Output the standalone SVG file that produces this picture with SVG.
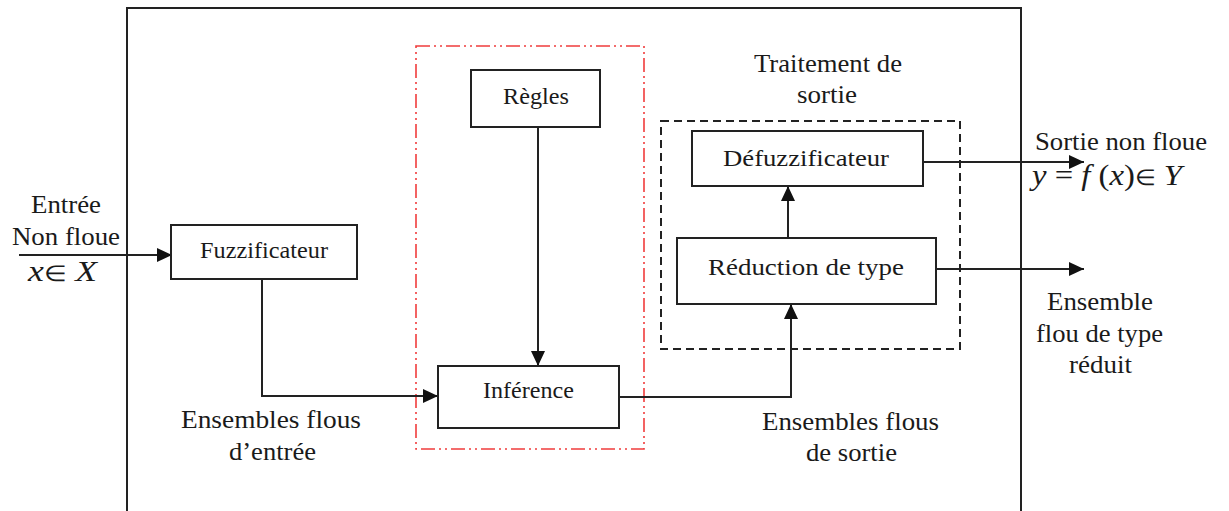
<svg xmlns="http://www.w3.org/2000/svg" width="1229" height="511" viewBox="0 0 1229 511" font-family="'Liberation Serif', Tinos, 'Times New Roman', serif">
<style>
text{font-family:'Liberation Serif',Tinos,'Times New Roman',serif;fill:#1a1a1a}
.lbl{font-size:25px}
.nl{font-size:23px}
.m{font-size:30px}
.it{font-style:italic}
.el{font-size:22px}
.box{fill:#fff;stroke:#222;stroke-width:2}
.ln{fill:none;stroke:#222;stroke-width:2}
</style>
<defs>
<marker id="ah" markerUnits="userSpaceOnUse" markerWidth="16" markerHeight="14" refX="15" refY="7" orient="auto">
<path d="M0,0 L15,7 L0,14 z" fill="#111"/>
</marker>
</defs>
<rect width="1229" height="511" fill="#fff"/>
<g id="frame">
<path class="ln" d="M127,515 V8 H1021 V515"/>
</g>
<g id="inference-block">
<rect x="416" y="46" width="228" height="403" fill="none" stroke="#f03c3c" stroke-width="1.6" stroke-dasharray="14 4 2 4 2 4"/>
</g>
<g id="output-processing">
<rect x="661" y="121" width="299" height="228" fill="none" stroke="#222" stroke-width="2" stroke-dasharray="8 5"/>
<text class="lbl" x="754" y="72" textLength="148" lengthAdjust="spacingAndGlyphs">Traitement de</text>
<text class="lbl" x="797" y="103" textLength="60" lengthAdjust="spacingAndGlyphs">sortie</text>
</g>
<g id="connectors">
<line class="ln" x1="19" y1="255" x2="172" y2="255" marker-end="url(#ah)"/>
<line class="ln" x1="538" y1="127" x2="538" y2="366" marker-end="url(#ah)"/>
<path class="ln" d="M262,279 V396 H438" marker-end="url(#ah)"/>
<path class="ln" d="M619,397 H791 V304" marker-end="url(#ah)"/>
<line class="ln" x1="788" y1="238" x2="788" y2="186" marker-end="url(#ah)"/>
<line class="ln" x1="923" y1="162" x2="1084" y2="162" marker-end="url(#ah)"/>
<line class="ln" x1="936" y1="269" x2="1084" y2="269" marker-end="url(#ah)"/>
</g>
<g id="regles">
<rect class="box" x="471" y="70" width="129" height="57"/>
<text class="nl" x="503" y="104" textLength="66" lengthAdjust="spacingAndGlyphs">Règles</text>
</g>
<g id="fuzzificateur">
<rect class="box" x="171" y="225" width="186" height="54"/>
<text class="nl" x="200" y="258" textLength="128" lengthAdjust="spacingAndGlyphs">Fuzzificateur</text>
</g>
<g id="inference">
<rect class="box" x="438" y="366" width="181" height="62"/>
<text class="nl" x="483" y="398" textLength="91" lengthAdjust="spacingAndGlyphs">Inférence</text>
</g>
<g id="defuzzificateur">
<rect class="box" x="692" y="131" width="231" height="55"/>
<text class="nl" x="723" y="166" textLength="166" lengthAdjust="spacingAndGlyphs">Défuzzificateur</text>
</g>
<g id="reduction">
<rect class="box" x="677" y="238" width="259" height="66"/>
<text class="nl" x="708" y="275" textLength="196" lengthAdjust="spacingAndGlyphs">Réduction de type</text>
</g>
<g id="labels">
<text class="lbl" x="31" y="213" textLength="70" lengthAdjust="spacingAndGlyphs">Entrée</text>
<text class="lbl" x="12" y="245" textLength="108" lengthAdjust="spacingAndGlyphs">Non floue</text>
<text class="m" x="28" y="281" textLength="69" lengthAdjust="spacingAndGlyphs"><tspan class="it">x</tspan><tspan class="el">∈</tspan> <tspan class="it">X</tspan></text>
<text class="lbl" x="181" y="428" textLength="180" lengthAdjust="spacingAndGlyphs">Ensembles flous</text>
<text class="lbl" x="229" y="460" textLength="87" lengthAdjust="spacingAndGlyphs">d’entrée</text>
<text class="lbl" x="762" y="430" textLength="177" lengthAdjust="spacingAndGlyphs">Ensembles flous</text>
<text class="lbl" x="806" y="461" textLength="91" lengthAdjust="spacingAndGlyphs">de sortie</text>
<text class="lbl" x="1035" y="150" textLength="172" lengthAdjust="spacingAndGlyphs">Sortie non floue</text>
<text class="m" x="1032" y="185" textLength="150" lengthAdjust="spacingAndGlyphs"><tspan class="it">y</tspan> = <tspan class="it">f</tspan> (<tspan class="it">x</tspan>)<tspan class="el">∈</tspan> <tspan class="it">Y</tspan></text>
<text class="lbl" x="1047" y="310" textLength="106" lengthAdjust="spacingAndGlyphs">Ensemble</text>
<text class="lbl" x="1036" y="342" textLength="127" lengthAdjust="spacingAndGlyphs">flou de type</text>
<text class="lbl" x="1069" y="373" textLength="63" lengthAdjust="spacingAndGlyphs">réduit</text>
</g>
</svg>
